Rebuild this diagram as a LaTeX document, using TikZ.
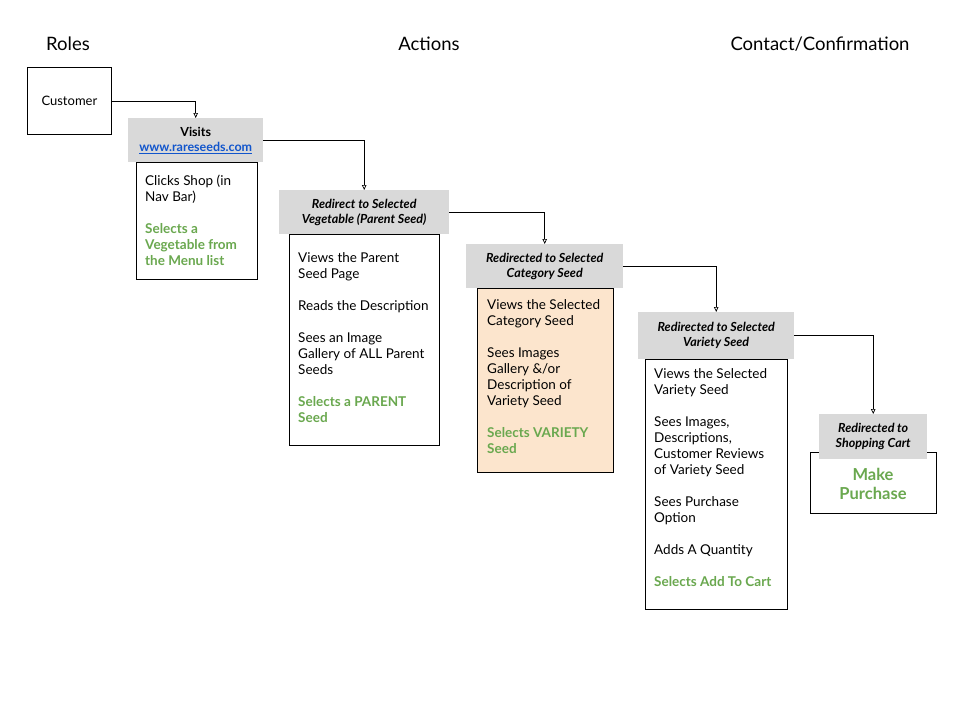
\documentclass[tikz,border=0pt]{standalone}
\usepackage{fontspec}
\setmainfont{Lato}
\usetikzlibrary{arrows.meta}
\definecolor{hdrgray}{HTML}{D9D9D9}
\definecolor{okgreen}{HTML}{6AA84F}
\definecolor{linkblue}{HTML}{1155CC}
\definecolor{peach}{HTML}{FCE5CD}
\tikzset{
  title/.style={font=\fontsize{18.5}{22}\selectfont, inner sep=0pt},
  plainbox/.style={draw=black, line width=0.8pt, fill=white, anchor=north west, inner sep=0pt},
  hdr/.style={fill=hdrgray, anchor=north west, inner sep=0pt, align=center,
     font=\fontsize{12.5}{15}\selectfont\bfseries\itshape},
  body/.style={anchor=north west, inner sep=0pt, align=left, font=\fontsize{13.5}{16}\selectfont},
  arr/.style={draw=black, line width=0.7pt, -{Triangle[open, length=5pt, width=4.5pt]}},
  grn/.style={text=okgreen}
}
\begin{document}
\begin{tikzpicture}[x=1pt, y=-1pt]
\useasboundingbox (0,0) rectangle (960,720);
% titles
\node[title] (t1) at (68,44) {Roles};
\node[title] (t2) at (429,44) {Actions};
\node[title] (t3) at (820,44) {Contact/Confirmation};
% customer
\node[plainbox, minimum width=84pt, minimum height=67pt] (cust) at (27,67) {};
\node[font=\fontsize{13}{15}\selectfont, inner sep=0pt] (custt) at (cust.center) {Customer};
% box 1
\node[plainbox, minimum width=121pt, minimum height=117pt] (b1) at (136,162) {};
\node[hdr, minimum width=135pt, minimum height=44pt, font=\fontsize{12.5}{15}\selectfont\bfseries] (h1) at (128,118)
  {Visits\\\textcolor{linkblue}{\underline{www.rareseeds.com}}};
\node[body] (b1t) at (145,175) {Clicks Shop (in\\Nav Bar)\\[16pt]
  \textcolor{okgreen}{\bfseries Selects a}\\\textcolor{okgreen}{\bfseries Vegetable from}\\\textcolor{okgreen}{\bfseries the Menu list}};
% box 2
\node[plainbox, minimum width=150pt, minimum height=211pt] (b2) at (289,234) {};
\node[hdr, minimum width=170pt, minimum height=44pt] (h2) at (279,190)
  {Redirect to Selected\\Vegetable (Parent Seed)};
\node[body] (b2t) at (298,252) {Views the Parent\\Seed Page\\[16pt]
  Reads the Description\\[16pt]
  Sees an Image\\Gallery of ALL Parent\\Seeds\\[16pt]
  \textcolor{okgreen}{\bfseries Selects a PARENT}\\\textcolor{okgreen}{\bfseries Seed}};
% box 3
\node[plainbox, fill=peach, minimum width=136pt, minimum height=184pt] (b3) at (477,288) {};
\node[hdr, minimum width=157pt, minimum height=44pt] (h3) at (466,244)
  {Redirected to Selected\\Category Seed};
\node[body] (b3t) at (487,299) {Views the Selected\\Category Seed\\[16pt]
  Sees Images\\Gallery \&/or\\Description of\\Variety Seed\\[16pt]
  \textcolor{okgreen}{\bfseries Selects VARIETY}\\\textcolor{okgreen}{\bfseries Seed}};
% box 4
\node[plainbox, minimum width=142pt, minimum height=250pt] (b4) at (645,359) {};
\node[hdr, minimum width=156pt, minimum height=47pt] (h4) at (638,312)
  {Redirected to Selected\\Variety Seed};
\node[body] (b4t) at (654,368) {Views the Selected\\Variety Seed\\[16pt]
  Sees Images,\\Descriptions,\\Customer Reviews\\of Variety Seed\\[16pt]
  Sees Purchase\\Option\\[16pt]
  Adds A Quantity\\[16pt]
  \textcolor{okgreen}{\bfseries Selects Add To Cart}};
% box 5
\node[plainbox, minimum width=126pt, minimum height=61pt] (b5) at (810,452) {};
\node[hdr, minimum width=108pt, minimum height=45pt] (h5) at (819,414)
  {Redirected to\\Shopping Cart};
\node[inner sep=0pt, align=center, text=okgreen, font=\fontsize{16.5}{19}\selectfont\bfseries] (b5t) at (873,484)
  {Make\\Purchase};
% connectors
\draw[arr] (cust.east) -| (h1.north);
\draw[arr] (h1.east) -| (h2.north);
\draw[arr] (h2.east) -| (h3.north);
\draw[arr] (h3.east) -| (h4.north);
\draw[arr] (h4.east) -| (h5.north);
\end{tikzpicture}
\end{document}
